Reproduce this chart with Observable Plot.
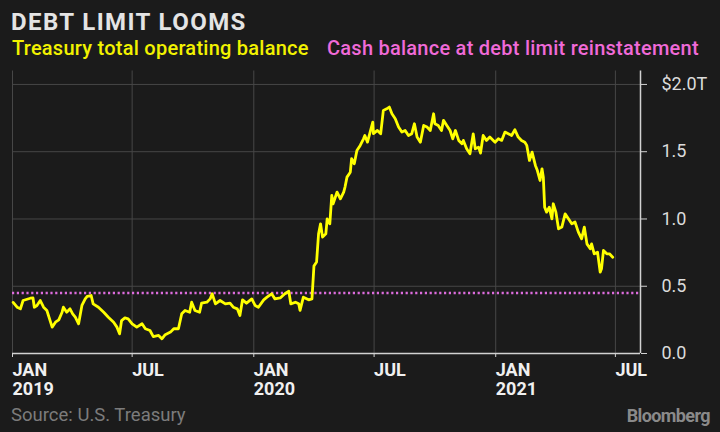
<!DOCTYPE html>
<html>
<head>
<meta charset="utf-8">
<script src="https://cdn.jsdelivr.net/npm/d3@7"></script>
<script src="https://cdn.jsdelivr.net/npm/@observablehq/plot@0.6"></script>
<style>
  html, body { margin: 0; padding: 0; background: #1b1b1b; width: 720px; height: 432px; overflow: hidden; }
  body { position: relative; font-family: Roboto, "Noto Sans", sans-serif; }
  .abs { position: absolute; white-space: nowrap; line-height: 1; }
  #title { left: 11px; top: 10.3px; font-size: 24px; font-weight: 700; color: #e4e4e4; letter-spacing: 1.4px; }
  #sub1 { left: 12px; top: 38.4px; font-size: 20px; font-weight: 500; color: #f2f200; letter-spacing: 0.25px; }
  #sub2 { left: 327px; top: 38.4px; font-size: 20px; font-weight: 500; color: #f06ad8; letter-spacing: 0.25px; }
  #chart { position: absolute; left: 0; top: 60px; }
  #source { left: 11px; top: 406px; font-size: 18.5px; color: #7c7c7c; }
  #brand { right: 10px; top: 407px; font-size: 18px; font-weight: 700; color: #8a8a8a; letter-spacing: -0.6px; }
</style>
</head>
<body>
<div id="title" class="abs">DEBT LIMIT LOOMS</div>
<div id="sub1" class="abs">Treasury total operating balance</div>
<div id="sub2" class="abs">Cash balance at debt limit reinstatement</div>
<div id="chart"></div>
<div id="source" class="abs">Source: U.S. Treasury</div>
<div id="brand" class="abs">Bloomberg</div>
<script>
// Treasury total operating balance, $ trillions
const dates = [
  "2019-01-02","2019-01-08","2019-01-13","2019-01-17","2019-01-28","2019-02-01","2019-02-03","2019-02-07","2019-02-12","2019-02-17",
  "2019-02-22","2019-03-02","2019-03-07","2019-03-12","2019-03-17","2019-03-19","2019-03-24","2019-03-29","2019-04-02","2019-04-06",
  "2019-04-11","2019-04-16","2019-04-21","2019-04-24","2019-04-30","2019-05-03","2019-05-11","2019-05-19","2019-05-26","2019-06-03",
  "2019-06-08","2019-06-12","2019-06-15","2019-06-20","2019-06-25","2019-07-01","2019-07-08","2019-07-16","2019-07-21","2019-07-28",
  "2019-08-02","2019-08-10","2019-08-15","2019-08-20","2019-08-28","2019-09-02","2019-09-09","2019-09-14","2019-09-19","2019-09-26",
  "2019-09-29","2019-10-04","2019-10-11","2019-10-14","2019-10-22","2019-10-27","2019-10-30","2019-11-04","2019-11-11","2019-11-19",
  "2019-11-26","2019-12-01","2019-12-07","2019-12-11","2019-12-15","2019-12-21","2019-12-29","2020-01-03","2020-01-08","2020-01-16",
  "2020-01-21","2020-01-28","2020-02-02","2020-02-10","2020-02-17","2020-02-23","2020-02-26","2020-03-04","2020-03-09","2020-03-11",
  "2020-03-16","2020-03-24","2020-03-29","2020-04-01","2020-04-05","2020-04-08","2020-04-11","2020-04-14","2020-04-19","2020-04-21",
  "2020-04-25","2020-04-28","2020-04-30","2020-05-06","2020-05-11","2020-05-16","2020-05-18","2020-05-21","2020-05-26","2020-05-28",
  "2020-06-01","2020-06-05","2020-06-10","2020-06-15","2020-06-17","2020-06-21","2020-06-25","2020-06-29","2020-06-30","2020-07-06",
  "2020-07-11","2020-07-15","2020-07-20","2020-07-24","2020-07-28","2020-08-02","2020-08-07","2020-08-12","2020-08-17","2020-08-22",
  "2020-08-27","2020-08-31","2020-09-04","2020-09-09","2020-09-14","2020-09-19","2020-09-24","2020-09-29","2020-10-01","2020-10-06",
  "2020-10-11","2020-10-14","2020-10-19","2020-10-24","2020-10-28","2020-11-01","2020-11-06","2020-11-11","2020-11-13","2020-11-18",
  "2020-11-23","2020-11-28","2020-12-01","2020-12-06","2020-12-09","2020-12-13","2020-12-18","2020-12-23","2020-12-31","2021-01-05",
  "2021-01-10","2021-01-15","2021-01-20","2021-01-25","2021-01-30","2021-02-04","2021-02-09","2021-02-14","2021-02-17","2021-02-21",
  "2021-02-25","2021-03-02","2021-03-05","2021-03-09","2021-03-12","2021-03-14","2021-03-16","2021-03-19","2021-03-23","2021-03-27",
  "2021-03-29","2021-04-02","2021-04-06","2021-04-11","2021-04-16","2021-04-21","2021-04-26","2021-05-01","2021-05-06","2021-05-11",
  "2021-05-15","2021-05-19","2021-05-24","2021-05-26","2021-05-30","2021-06-04","2021-06-08","2021-06-10","2021-06-13","2021-06-18",
  "2021-06-22","2021-06-27"
];
const balances = [
  0.380,0.344,0.332,0.394,0.411,0.413,0.344,0.357,0.394,0.344,
  0.320,0.196,0.233,0.250,0.307,0.344,0.307,0.332,0.295,0.270,
  0.221,0.357,0.406,0.424,0.431,0.369,0.344,0.307,0.270,0.233,
  0.196,0.146,0.245,0.265,0.258,0.221,0.196,0.221,0.184,0.171,
  0.126,0.134,0.109,0.140,0.159,0.184,0.184,0.295,0.320,0.307,
  0.381,0.320,0.307,0.374,0.381,0.406,0.444,0.369,0.394,0.369,
  0.374,0.344,0.332,0.283,0.399,0.374,0.406,0.357,0.344,0.399,
  0.419,0.444,0.406,0.413,0.444,0.463,0.369,0.381,0.369,0.320,
  0.419,0.399,0.406,0.650,0.680,0.890,0.964,0.865,0.890,1.001,
  0.964,1.175,1.113,1.200,1.150,1.200,1.237,1.311,1.348,1.448,
  1.410,1.509,1.547,1.596,1.621,1.571,1.646,1.720,1.634,1.658,
  1.634,1.807,1.819,1.832,1.782,1.745,1.683,1.646,1.658,1.621,
  1.634,1.708,1.609,1.571,1.695,1.683,1.658,1.782,1.708,1.695,
  1.658,1.733,1.695,1.658,1.596,1.658,1.584,1.559,1.584,1.522,
  1.485,1.633,1.522,1.534,1.490,1.621,1.584,1.609,1.571,1.596,
  1.584,1.646,1.634,1.621,1.663,1.609,1.584,1.571,1.547,1.435,
  1.497,1.398,1.360,1.286,1.373,1.311,1.088,1.051,1.088,1.001,
  1.113,1.051,0.927,0.940,1.038,1.001,0.964,0.977,0.902,0.853,
  0.940,0.815,0.778,0.815,0.741,0.753,0.605,0.630,0.766,0.741,
  0.741,0.716
];
// Cash balance at debt limit reinstatement, $ trillions
const reinstatementCash = [0.45];
// Axis ticks
const xTicks = ["2019-01-01","2019-07-01","2020-01-01","2020-07-01","2021-01-01","2021-07-01"].map(s => new Date(s));
const xDomain = ["2019-01-01","2021-08-08"].map(s => new Date(s));
const yTicks = [0, 0.5, 1.0, 1.5, 2.0];
const yDomain = [0, 2.1];

const data = dates.map((d, i) => ({date: new Date(d), value: balances[i]}));
const fmtX = d => d.getUTCMonth() === 0 ? "JAN\n" + d.getUTCFullYear() : "JUL";
const fmtY = v => v === 2 ? "$2.0T" : v.toFixed(1);

const chart = Plot.plot({
  width: 720,
  height: 340,
  marginTop: 10.5,
  marginBottom: 47,
  marginLeft: 12,
  marginRight: 80,
  style: {background: "transparent", color: "#dcdcdc", fontFamily: "Roboto, sans-serif", overflow: "visible"},
  x: {type: "utc", domain: xDomain},
  y: {domain: yDomain},
  marks: [
    Plot.gridY(yTicks.filter(v => v > 0), {stroke: "#474747", strokeOpacity: 1, strokeWidth: 1}),
    Plot.gridX(xTicks, {stroke: "#474747", strokeOpacity: 1, strokeWidth: 1}),
    Plot.ruleY(reinstatementCash, {stroke: "#dc6cdc", strokeWidth: 2.6, strokeDasharray: "2.2,2.6"}),
    Plot.lineY(data, {x: "date", y: "value", stroke: "#ffff00", strokeWidth: 2.8, strokeLinejoin: "round"}),
    Plot.ruleY([0], {stroke: "#d2d2d2", strokeWidth: 1.5}),
    Plot.ruleX([xDomain[1]], {stroke: "#d2d2d2", strokeWidth: 1.5}),
    Plot.axisY(yTicks, {anchor: "right", tickSize: 6, tickPadding: 15, tickFormat: fmtY, fontSize: 18, stroke: "#d2d2d2", fill: "#dcdcdc", label: null}),
    Plot.axisX(xTicks, {anchor: "bottom", tickSize: 4, tickPadding: 5, tickFormat: fmtX, textAnchor: "start", fontSize: 18, fontWeight: "bold", lineHeight: 1.06, stroke: "#d2d2d2", fill: "#f0f0f0", label: null})
  ]
});
document.getElementById("chart").appendChild(chart);
</script>
</body>
</html>
